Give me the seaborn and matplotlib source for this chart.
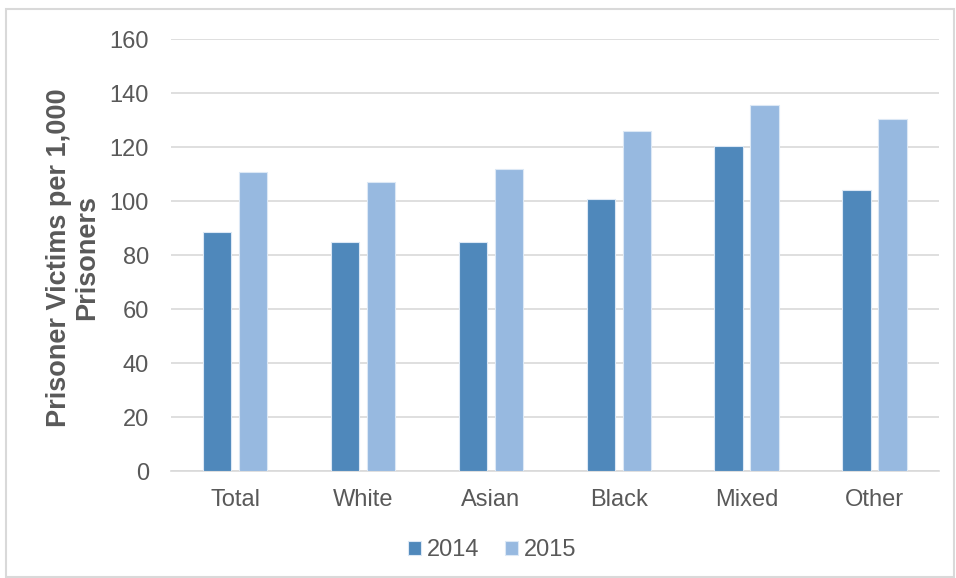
import matplotlib
matplotlib.use("Agg")
import matplotlib.pyplot as plt
import seaborn as sns
import pandas as pd
from matplotlib.patches import Rectangle

categories = ["Total", "White", "Asian", "Black", "Mixed", "Other"]
years = ["2014", "2015"]
values_2014 = [88.6, 84.8, 84.8, 100.9, 120.2, 104.2]
values_2015 = [110.9, 107.0, 111.7, 126.0, 135.4, 130.3]
yticks = [0, 20, 40, 60, 80, 100, 120, 140, 160]

df = pd.DataFrame({
    "Category": categories * 2,
    "Year": [years[0]] * len(categories) + [years[1]] * len(categories),
    "Value": values_2014 + values_2015,
})

sns.set_theme(style="white")
plt.rcParams["font.family"] = ["Liberation Sans", "DejaVu Sans"]

fig = plt.figure(figsize=(9.56, 5.78), dpi=100)
ax = fig.add_axes([0.179, 0.185, 0.803, 0.7475])

palette = {"2014": "#4F88BB", "2015": "#97B9E0"}
sns.barplot(data=df, x="Category", y="Value", hue="Year", hue_order=years,
            order=categories, palette=palette, width=0.5625, gap=0.2,
            edgecolor="#DCE8F5", linewidth=0.8, saturation=1, ax=ax, zorder=3)

ax.set_ylim(0, 160)
ax.set_yticks(yticks)
ax.set_yticklabels([str(t) for t in yticks])
ax.set_xlim(-0.5, len(categories) - 0.5)
ax.yaxis.grid(True, color="#D9D9D9", linewidth=1.2, zorder=0)
ax.set_axisbelow(True)
for s in ["top", "right", "left"]:
    ax.spines[s].set_visible(False)
ax.spines["bottom"].set_color("#D9D9D9")
ax.spines["bottom"].set_linewidth(1.2)
ax.tick_params(axis="both", length=0, labelsize=17, colors="#595959")
ax.tick_params(axis="y", pad=16)
ax.tick_params(axis="x", pad=13)
ax.set_xlabel("")
ax.set_ylabel("")

fig.text(73 / 956, 1 - 258 / 578, "Prisoner Victims per 1,000\nPrisoners",
         rotation=90, ha="center", va="center", fontsize=19.5,
         fontweight="bold", color="#595959", linespacing=1.1)

handles, labels = ax.get_legend_handles_labels()
ax.legend_.remove()
leg = fig.legend(handles, labels, loc="center", bbox_to_anchor=(492 / 956, 1 - 550 / 578),
                 ncol=2, frameon=False, fontsize=17, handlelength=0.55, handleheight=0.55,
                 handletextpad=0.25, columnspacing=1.1)
for t in leg.get_texts():
    t.set_color("#595959")

fig.patches.append(Rectangle((6 / 956, 0.002), 948 / 956, 1 - 9 / 578 - 0.002,
                             transform=fig.transFigure, fill=False,
                             edgecolor="#D9D9D9", linewidth=1.5))

fig.savefig("out.png", dpi=100)
